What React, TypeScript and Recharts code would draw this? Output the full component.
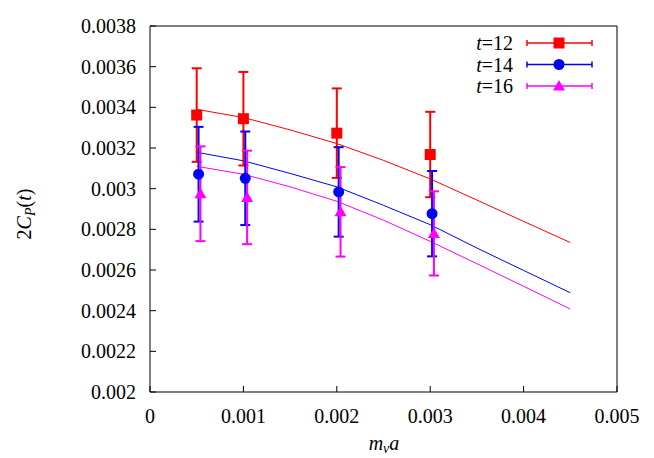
import React from "react"
import { ComposedChart, Scatter, Line, XAxis, YAxis, ErrorBar } from "recharts"

document.body.style.margin = "0"

const FONT = "Liberation Serif"

const xTicks = [0, 0.001, 0.002, 0.003, 0.004, 0.005]
const yTicks = [0.002, 0.0022, 0.0024, 0.0026, 0.0028, 0.003, 0.0032, 0.0034, 0.0036, 0.0038]

// measured points (t = 12, 14, 16)
const t12X = [0.0005, 0.001, 0.002, 0.003]
const t12Y = [0.003362, 0.003344, 0.003273, 0.003168]
const t12Err = [0.00023, 0.00023, 0.00022, 0.00021]

const t14X = [0.00052, 0.00102, 0.00202, 0.00302]
const t14Y = [0.003071, 0.003051, 0.002984, 0.002877]
const t14Err = [0.000233, 0.00023, 0.00022, 0.00021]

const t16X = [0.00054, 0.00104, 0.00204, 0.00304]
const t16Y = [0.002975, 0.002957, 0.002886, 0.00278]
const t16Err = [0.000233, 0.00023, 0.00022, 0.000207]

// fit curves
const fitX = [0.0005, 0.001, 0.0015, 0.002, 0.0025, 0.003, 0.0035, 0.004, 0.0045]
const fit12 = [0.00339, 0.00335, 0.003289, 0.003222, 0.003139, 0.003048, 0.002944, 0.002839, 0.002735]
const fit14 = [0.003179, 0.003137, 0.003075, 0.003009, 0.002918, 0.002823, 0.002708, 0.002598, 0.002488]
const fit16 = [0.00311, 0.003071, 0.003009, 0.002938, 0.002845, 0.002741, 0.002631, 0.00252, 0.002408]

const RED = "#ff0000"
const BLUE = "#0000ff"
const MAGENTA = "#ff00ff"

const points = (xs: number[], ys: number[], errs: number[]) =>
  xs.map((x, i) => ({ x, y: ys[i], err: errs[i] }))
const curve = (ys: number[]) => fitX.map((x, i) => ({ x, y: ys[i] }))

const Square = (p: any) => (
  <rect x={p.cx - 5.5} y={p.cy - 5.5} width={11} height={11} fill={p.fill ?? RED} />
)
const Dot = (p: any) => <circle cx={p.cx} cy={p.cy} r={5.5} fill={p.fill ?? BLUE} />
const Tri = (p: any) => (
  <path
    d={`M${p.cx},${p.cy - 6} L${p.cx + 6},${p.cy + 4.5} L${p.cx - 6},${p.cy + 4.5} Z`}
    fill={p.fill ?? MAGENTA}
  />
)

const legendRows = [
  { label: "12", color: RED, Mark: Square },
  { label: "14", color: BLUE, Mark: Dot },
  { label: "16", color: MAGENTA, Mark: Tri },
]

function LegendBox() {
  return (
    <g fontFamily={FONT} fontSize={20} style={{ fontFamily: FONT }}>
      {legendRows.map((r, i) => {
        const cy = 43 + i * 21.5
        return (
          <g key={r.label}>
            <text x={513} y={cy + 7} textAnchor="end" fill="#000">
              <tspan fontStyle="italic">t</tspan>={r.label}
            </text>
            <line x1={527} x2={592} y1={cy} y2={cy} stroke={r.color} strokeWidth={1.5} />
            <line x1={527} x2={527} y1={cy - 3} y2={cy + 3} stroke={r.color} strokeWidth={1.5} />
            <line x1={592} x2={592} y1={cy - 3} y2={cy + 3} stroke={r.color} strokeWidth={1.5} />
            <r.Mark cx={559} cy={cy} fill={r.color} />
          </g>
        )
      })}
    </g>
  )
}

function AxisTitles() {
  return (
    <g fontFamily={FONT} fontSize={20} fill="#000" style={{ fontFamily: FONT }}>
      <text x={384} y={450} textAnchor="middle">
        <tspan fontStyle="italic">m</tspan>
        <tspan fontStyle="italic" fontSize={14} dy={3}>v</tspan>
        <tspan fontStyle="italic" dy={-3}>a</tspan>
      </text>
      <text x={31} y={214} textAnchor="middle" transform="rotate(-90 31 214)">
        2<tspan fontStyle="italic">C</tspan>
        <tspan fontStyle="italic" fontSize={14} dy={4}>P</tspan>
        <tspan dy={-4}>(</tspan>
        <tspan fontStyle="italic">t</tspan>)
      </text>
    </g>
  )
}

const tickStyle = { fill: "#000", fontSize: 20, fontFamily: FONT, style: { fontFamily: FONT } }

export default function App() {
  return (
    <div style={{ width: 654, height: 458, background: "#fff", fontFamily: FONT }}>
      <ComposedChart width={654} height={458} margin={{ top: 25, right: 36, left: 0, bottom: 0 }}>
        <XAxis
          dataKey="x"
          type="number"
          domain={[0, 0.005]}
          ticks={xTicks}
          interval={0}
          allowDataOverflow
          height={66}
          tickSize={-6}
          tickMargin={23}
          tick={tickStyle}
          tickFormatter={(v) => String(v)}
          stroke="#000"
        />
        <XAxis
          xAxisId="top"
          orientation="top"
          dataKey="x"
          type="number"
          domain={[0, 0.005]}
          ticks={xTicks}
          interval={0}
          height={1}
          tickSize={-6}
          tick={false}
          stroke="#000"
        />
        <YAxis
          type="number"
          domain={[0.002, 0.0038]}
          ticks={yTicks}
          interval={0}
          allowDataOverflow
          width={150}
          tickSize={-6}
          tickMargin={20}
          tick={tickStyle}
          tickFormatter={(v) => String(v)}
          stroke="#000"
        />
        <YAxis
          yAxisId="right"
          orientation="right"
          type="number"
          domain={[0.002, 0.0038]}
          ticks={yTicks}
          interval={0}
          width={1}
          tickSize={-6}
          tick={false}
          stroke="#000"
        />

        <Line data={curve(fit12)} dataKey="y" stroke={RED} strokeWidth={1} dot={false} isAnimationActive={false} />
        <Line data={curve(fit14)} dataKey="y" stroke={BLUE} strokeWidth={1} dot={false} isAnimationActive={false} />
        <Line data={curve(fit16)} dataKey="y" stroke={MAGENTA} strokeWidth={1} dot={false} isAnimationActive={false} />

        <Scatter data={points(t12X, t12Y, t12Err)} dataKey="y" fill={RED} shape={Square} isAnimationActive={false}>
          <ErrorBar dataKey="err" direction="y" width={5} stroke={RED} strokeWidth={2} />
        </Scatter>
        <Scatter data={points(t14X, t14Y, t14Err)} dataKey="y" fill={BLUE} shape={Dot} isAnimationActive={false}>
          <ErrorBar dataKey="err" direction="y" width={5} stroke={BLUE} strokeWidth={2} />
        </Scatter>
        <Scatter data={points(t16X, t16Y, t16Err)} dataKey="y" fill={MAGENTA} shape={Tri} isAnimationActive={false}>
          <ErrorBar dataKey="err" direction="y" width={5} stroke={MAGENTA} strokeWidth={2} />
        </Scatter>

        <AxisTitles />
        <LegendBox />
      </ComposedChart>
    </div>
  )
}
